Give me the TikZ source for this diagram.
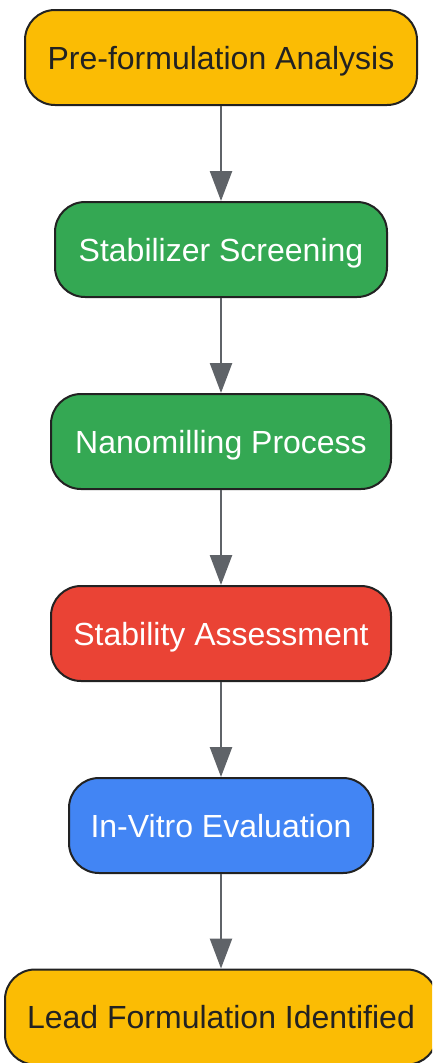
\documentclass[tikz,border=0pt]{standalone}
\usepackage{fontspec}
\setmainfont{Liberation Sans}
\usetikzlibrary{arrows.meta}
\definecolor{gyellow}{HTML}{FBBC04}
\definecolor{ggreen}{HTML}{34A853}
\definecolor{gred}{HTML}{EA4335}
\definecolor{gblue}{HTML}{4285F4}
\definecolor{edgegray}{HTML}{5F6368}
\definecolor{darktext}{HTML}{222222}
\tikzset{
  box/.style={draw=darktext, line width=2pt, rounded corners=30pt, minimum height=95pt, inner sep=0pt, text depth=0pt, font=\fontsize{32}{37}\selectfont},
  flow/.style={draw=edgegray, line width=2.5pt, -{Triangle[length=30pt,width=22pt]}}
}
\begin{document}
\begin{tikzpicture}
\clip (0,0) rectangle (432pt,-1063pt);
\useasboundingbox (0,0) rectangle (432pt,-1063pt);
\node[box, fill=gyellow, text=darktext, minimum width=392pt] (a) at (221pt,-57.5pt) {Pre-formulation Analysis};
\node[box, fill=ggreen, text=white, minimum width=332pt] (b) at (221pt,-249.5pt) {Stabilizer Screening};
\node[box, fill=ggreen, text=white, minimum width=340pt] (c) at (221pt,-441.5pt) {Nanomilling Process};
\node[box, fill=gred, text=white, minimum width=340pt] (d) at (221pt,-633.5pt) {Stability Assessment};
\node[box, fill=gblue, text=white, minimum width=304pt] (e) at (221pt,-825.5pt) {In-Vitro Evaluation};
\node[box, fill=gyellow, text=darktext, minimum width=432pt] (f) at (221pt,-1017pt) {Lead Formulation Identified};
\draw[flow] (a.south) -- (b.north);
\draw[flow] (b.south) -- (c.north);
\draw[flow] (c.south) -- (d.north);
\draw[flow] (d.south) -- (e.north);
\draw[flow] (e.south) -- (f.north);
\end{tikzpicture}
\end{document}
